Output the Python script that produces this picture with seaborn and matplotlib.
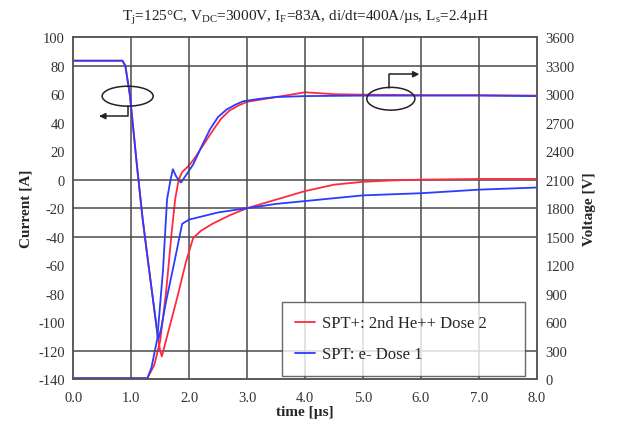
import numpy as np
import pandas as pd
import seaborn as sns
import matplotlib.pyplot as plt
from matplotlib.patches import Ellipse

# current traces (left axis)
t_i_he = [0, 0.85, 0.9, 0.98, 1.1, 1.2, 1.3, 1.45, 1.5, 1.53, 1.6, 1.8, 1.95, 2.07, 2.2, 2.4, 2.7,
          3.0, 3.5, 4.0, 4.5, 5.0, 5.5, 6.0, 7.0, 8.0]
i_he = [83.5, 83.5, 80, 59, 10, -28, -60, -107, -120, -124, -113, -82, -57, -41, -36, -31, -25,
        -20, -14, -8, -3.5, -1.5, -0.5, 0, 0.5, 0.5]
t_i_e = [0, 0.85, 0.9, 0.98, 1.1, 1.2, 1.3, 1.45, 1.47, 1.52, 1.6, 1.75, 1.88, 2.0, 2.2, 2.5,
         3.0, 3.5, 4.0, 5.0, 6.0, 7.0, 8.0]
i_e = [83.5, 83.5, 80, 59, 10, -28, -60, -107, -112, -104, -86, -57, -31, -28, -26, -23,
       -20, -17, -15, -11, -9.5, -7, -5.5]

# voltage traces (right axis)
t_v_he = [0, 1.28, 1.4, 1.5, 1.6, 1.7, 1.76, 1.82, 1.88, 2.0, 2.1, 2.25, 2.4, 2.55, 2.7, 2.85,
          3.0, 3.5, 4.0, 4.5, 5.0, 6.0, 7.0, 8.0]
v_he = [10, 10, 150, 400, 900, 1550, 1895, 2100, 2180, 2250, 2330, 2470, 2610, 2740, 2830, 2880,
        2920, 2970, 3020, 3000, 2995, 2990, 2990, 2985]
t_v_e = [0, 1.28, 1.35, 1.45, 1.55, 1.62, 1.68, 1.72, 1.78, 1.86, 1.95, 2.07, 2.2, 2.36, 2.5,
         2.65, 2.8, 2.93, 3.2, 3.5, 4.0, 5.0, 6.0, 7.0, 8.0]
v_e = [10, 10, 120, 420, 1150, 1895, 2100, 2210, 2130, 2070, 2150, 2260, 2430, 2630, 2760,
       2840, 2890, 2925, 2950, 2970, 2980, 2985, 2985, 2985, 2980]

lab_he = "SPT+: 2nd He++ Dose 2"
lab_e = "SPT: e- Dose 1"
col_he = "#ff2a40"
col_e = "#2a3cff"

cur = pd.concat([pd.DataFrame({"t": t_i_he, "y": i_he, "s": lab_he}),
                 pd.DataFrame({"t": t_i_e, "y": i_e, "s": lab_e})])
vol = pd.concat([pd.DataFrame({"t": t_v_he, "y": v_he, "s": lab_he}),
                 pd.DataFrame({"t": t_v_e, "y": v_e, "s": lab_e})])

sns.set_style("white")
plt.rcParams["font.family"] = ["Liberation Serif", "DejaVu Serif"]
plt.rcParams["mathtext.fontset"] = "custom"
plt.rcParams["mathtext.rm"] = "Liberation Serif"
plt.rcParams["axes.unicode_minus"] = False

fig = plt.figure(figsize=(6.2, 4.39), dpi=100)
ax = fig.add_axes([0.118, 0.134, 0.748, 0.779])
ax2 = ax.twinx()

pal = {lab_he: col_he, lab_e: col_e}
sns.lineplot(data=cur, x="t", y="y", hue="s", palette=pal, estimator=None, sort=False,
             lw=1.3, ax=ax)
sns.lineplot(data=vol, x="t", y="y", hue="s", palette=pal, estimator=None, sort=False,
             lw=1.3, ax=ax2, legend=False)

ax.set_xlim(0, 8)
ax.set_ylim(-140, 100)
ax2.set_ylim(0, 3600)
ax.set_xticks(np.arange(0, 8.1, 1.0))
ax.set_xticklabels([f"{v:.1f}" for v in np.arange(0, 8.1, 1.0)])
ax.set_yticks(np.arange(-140, 101, 20))
ax2.set_yticks(np.arange(0, 3601, 300))

grid_y = [80, 0, -20, -40, -120]
ax.set_yticks(grid_y, minor=True)
ax.grid(False)
ax2.grid(False)
for v in grid_y:
    ax.axhline(v, color="#4a4a4a", lw=1.1, zorder=0)
for v in range(1, 8):
    ax.axvline(v, color="#4a4a4a", lw=1.1, zorder=0)

for a in (ax, ax2):
    for s in a.spines.values():
        s.set_color("#555555")
        s.set_linewidth(1.1)
ax.tick_params(axis="y", which="major", length=0, labelsize=10.5, colors="#333333", pad=6)
ax.tick_params(axis="y", which="minor", length=5, color="#555555")
ax.tick_params(axis="x", length=5, direction="inout", color="#555555", labelsize=10.5,
               labelcolor="#333333", pad=6)
ax2.tick_params(axis="y", length=0, labelsize=10.5, colors="#333333", pad=6)

ax.set_xlabel("time [µs]", fontweight="bold", fontsize=11, labelpad=1)
ax.set_ylabel("Current [A]", fontweight="bold", fontsize=11, labelpad=4)
ax2.set_ylabel("Voltage [V]", fontweight="bold", fontsize=11, labelpad=6)
ax.set_title(r"T$_\mathrm{j}$=125°C, V$_\mathrm{DC}$=3000V, I$_\mathrm{F}$=83A, "
             r"di/dt=400A/µs, L$_\mathrm{s}$=2.4µH", fontsize=11, pad=13, color="#222222")

# ellipse markers with arrows pointing to each axis
ax.add_patch(Ellipse((0.94, 58.6), 0.88, 14, fill=False, ec="#222222", lw=1.1, zorder=5))
ax.plot([0.95, 0.95, 0.5], [51.6, 44.6, 44.6], color="#222222", lw=1.1, zorder=5)
ax.annotate("", xy=(0.4, 44.6), xytext=(0.55, 44.6),
            arrowprops=dict(arrowstyle="-|>", color="#222222", lw=1.1, mutation_scale=9))
ax.add_patch(Ellipse((5.48, 56.8), 0.83, 16, fill=False, ec="#222222", lw=1.1, zorder=5))
ax.plot([5.45, 5.45, 5.9], [64.5, 74, 74], color="#222222", lw=1.1, zorder=5)
ax.annotate("", xy=(6.02, 74), xytext=(5.85, 74),
            arrowprops=dict(arrowstyle="-|>", color="#222222", lw=1.1, mutation_scale=9))

ax.set_zorder(ax2.get_zorder() + 1)
ax.patch.set_visible(False)

leg = ax.legend(loc="lower left", bbox_to_anchor=(0.45, 0.01, 0.524, 0.22), mode="expand",
                borderaxespad=0, frameon=True, fancybox=False, edgecolor="#444444",
                fontsize=12, handlelength=1.2, handletextpad=0.4, borderpad=0.8,
                labelspacing=0.9)
leg.get_frame().set_linewidth(1.0)
leg.set_zorder(20)

fig.savefig("out.png", dpi=100)
